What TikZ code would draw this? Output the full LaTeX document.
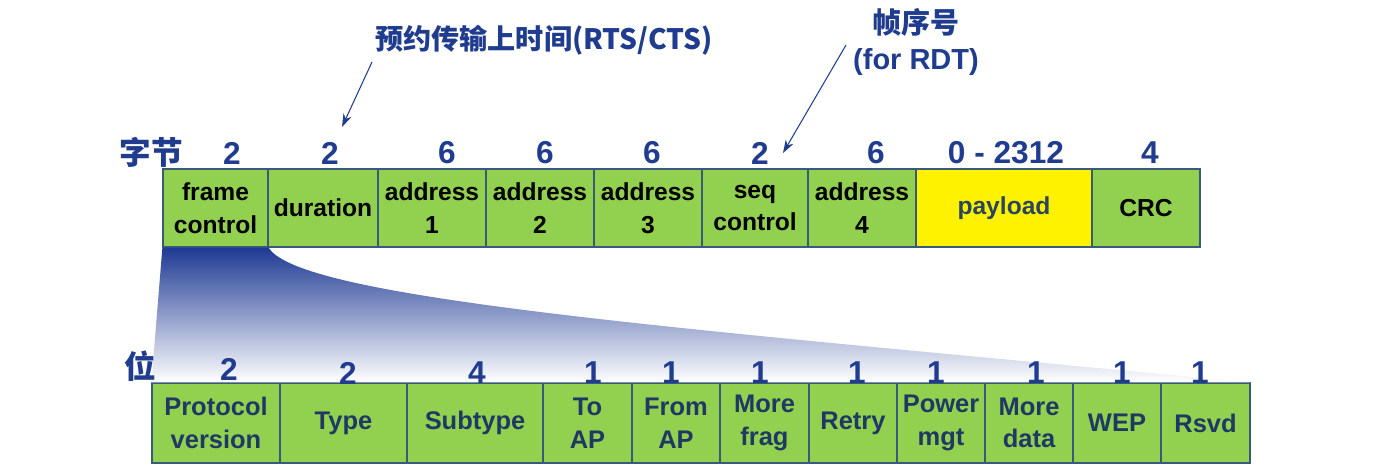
\documentclass[tikz,border=0pt]{standalone}
\usepackage{fontspec}
\setmainfont{Liberation Sans}
\newfontfamily\cjk{Noto Sans CJK SC}
\usetikzlibrary{arrows.meta}
\definecolor{fieldgreen}{HTML}{92D050}
\definecolor{fieldline}{HTML}{3A5A7A}
\definecolor{numblue}{HTML}{1F3C8F}
\definecolor{bitnavy}{HTML}{1F3864}
\definecolor{funblue}{HTML}{1F3A93}
\definecolor{paytext}{HTML}{2A4560}
\tikzset{
    field/.style={draw=fieldline, line width=0.7pt, fill=fieldgreen, inner sep=0pt, align=center,
        font=\bfseries\fontsize{14}{18.5}\selectfont},
    paybox/.style={field, fill=yellow, text=paytext},
    bitfield/.style={field, text=bitnavy, font=\bfseries\fontsize{14.5}{18.5}\selectfont},
    size num/.style={text=numblue, font=\bfseries\fontsize{18}{20}\selectfont, inner sep=0pt},
    unit label/.style={text=numblue, font=\cjk\bfseries\fontsize{18}{20}\selectfont, inner sep=0pt},
    note/.style={text=numblue, inner sep=0pt, align=center},
    pointer/.style={draw=numblue, line width=0.6pt, -{Stealth[length=7.5pt,width=5pt]}}
}

\begin{document}
\begin{tikzpicture}[x=0.02cm, y=-0.02cm]
    \useasboundingbox (0,0) rectangle (1384,471);

    % frame fields (bytes)
    \foreach \n/\l/\r/\txt/\st in {fc/163/268/{frame\\control}/field, du/268/378/duration/field,
        a1/378/486/{address\\1}/field, a2/486/594/{address\\2}/field, a3/594/702/{address\\3}/field,
        sc/702/808/{seq\\control}/field, a4/808/916/{address\\4}/field,
        pl/916/1092/payload/paybox, cr/1092/1200/CRC/field}
        \node[\st, minimum width=(\r-\l)*0.02cm, minimum height=78*0.02cm] (\n) at ({(\l+\r)/2},208) {\txt};

    % frame control fields (bits)
    \foreach \n/\l/\r/\txt in {pv/152/280/{Protocol\\version}, ty/280/407/Type, st/407/543/Subtype,
        ta/543/632/{To\\AP}, fa/632/720/{From\\AP}, mf/720/809/{More\\frag}, re/809/897/Retry,
        pm/897/985/{Power\\mgt}, md/985/1073/{More\\data}, we/1073/1161/WEP, rs/1161/1250/Rsvd}
        \node[bitfield, minimum width=(\r-\l)*0.02cm, minimum height=80*0.02cm] (\n) at ({(\l+\r)/2},423) {\txt};

    % expansion funnel
    \shade[top color=funblue, bottom color=white]
        (fc.south west) -- (pv.north west) -- (rs.north east)
        .. controls (700,330) and (300,300) .. (fc.south east) -- cycle;

    % sizes
    \foreach \x/\v in {232/2, 330/2, 447/6, 545/6, 652/6, 760/2, 876/6, 1006/{0 - 2312}, 1150/4}
        \node[size num] (bn\x) at (\x,153) {\v};
    \node[size num] (bit1) at (229,369) {2};
    \foreach \x/\v in {348/2, 477/4, 593/1, 671/1, 760/1, 857/1, 936/1, 1036/1, 1122/1, 1200/1}
        \node[size num] (bit\x) at (\x,373) {\v};

    \node[unit label] (bytes) at (151,152) {字节};
    \node[unit label] (bits) at (140,366) {位};

    % notes
    \node[note, anchor=west, font=\cjk\bfseries\fontsize{16}{20}\selectfont] (rts) at (375,40) {预约传输上时间(RTS/CTS)};
    \node[note, font=\bfseries\fontsize{16.5}{21}\selectfont] (seqno) at (916,42) {{\cjk 帧序号}\\(for RDT)};

    \coordinate (rtsfrom) at (372,62);
    \coordinate (rtsto) at (342,127);
    \coordinate (seqfrom) at (846,45);
    \coordinate (seqto) at (783,153);
    \draw[pointer] (rtsfrom) -- (rtsto);
    \draw[pointer] (seqfrom) -- (seqto);
\end{tikzpicture}
\end{document}
